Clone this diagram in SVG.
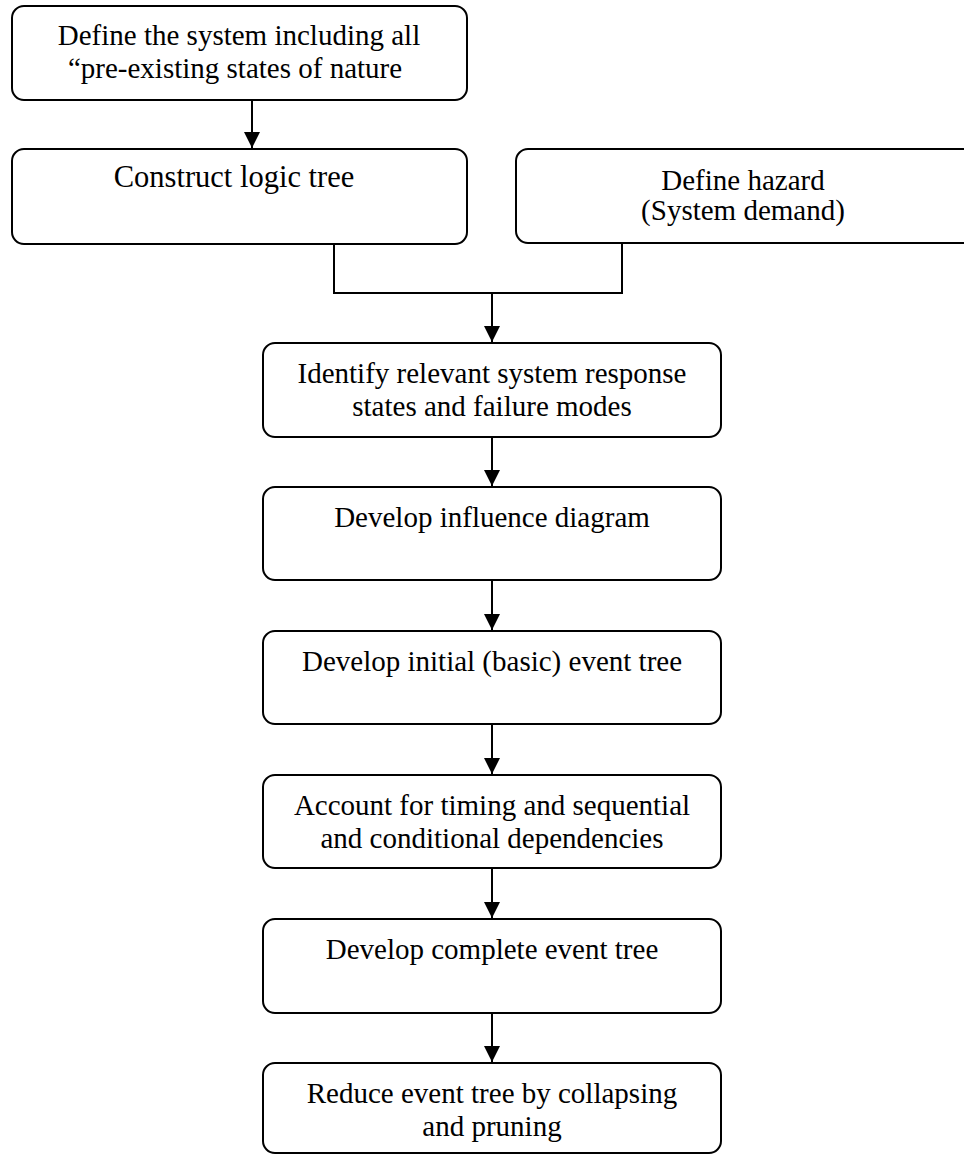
<svg xmlns="http://www.w3.org/2000/svg" width="964" height="1155" viewBox="0 0 964 1155">
  <style>
    .box { fill: #ffffff; stroke: #000000; stroke-width: 2; }
    .lbl { font-family: "Liberation Serif", "Times New Roman", serif; font-size: 29px; fill: #000000; text-anchor: middle; }
    .wire { fill: none; stroke: #000000; stroke-width: 2; }
  </style>
  <defs>
    <marker id="head" viewBox="0 0 16 16" refX="16" refY="8" markerWidth="16" markerHeight="16" markerUnits="userSpaceOnUse" orient="auto">
      <path d="M0,0 L16,8 L0,16 Z" fill="#000000"/>
    </marker>
  </defs>

  <rect width="964" height="1155" fill="#ffffff"/>

  <g id="connectors">
    <line class="wire" x1="252" y1="100" x2="252" y2="148" marker-end="url(#head)"/>
    <polyline class="wire" points="334,244 334,293 622,293 622,243"/>
    <line class="wire" x1="492" y1="293" x2="492" y2="342" marker-end="url(#head)"/>
    <line class="wire" x1="492" y1="437" x2="492" y2="486" marker-end="url(#head)"/>
    <line class="wire" x1="492" y1="580" x2="492" y2="630" marker-end="url(#head)"/>
    <line class="wire" x1="492" y1="724" x2="492" y2="774" marker-end="url(#head)"/>
    <line class="wire" x1="492" y1="868" x2="492" y2="918" marker-end="url(#head)"/>
    <line class="wire" x1="492" y1="1013" x2="492" y2="1062" marker-end="url(#head)"/>
  </g>

  <g id="define-system">
    <rect class="box" x="12" y="6" width="455" height="94" rx="12"/>
    <text class="lbl" x="239" y="45">Define the system including all</text>
    <text class="lbl" x="235" y="78">“pre-existing states of nature</text>
  </g>

  <g id="construct-logic-tree">
    <rect class="box" x="12" y="149" width="455" height="95" rx="12"/>
    <text class="lbl" x="234" y="187" style="font-size:30.5px">Construct logic tree</text>
  </g>

  <g id="define-hazard">
    <rect class="box" x="516" y="149" width="470" height="94" rx="12"/>
    <text class="lbl" x="743" y="190">Define hazard</text>
    <text class="lbl" x="743" y="220">(System demand)</text>
  </g>

  <g id="identify-states">
    <rect class="box" x="263" y="343" width="458" height="94" rx="12"/>
    <text class="lbl" x="492" y="383">Identify relevant system response</text>
    <text class="lbl" x="492" y="416">states and failure modes</text>
  </g>

  <g id="influence-diagram">
    <rect class="box" x="263" y="487" width="458" height="93" rx="12"/>
    <text class="lbl" x="492" y="527">Develop influence diagram</text>
  </g>

  <g id="initial-event-tree">
    <rect class="box" x="263" y="631" width="458" height="93" rx="12"/>
    <text class="lbl" x="492" y="671">Develop initial (basic) event tree</text>
  </g>

  <g id="timing-dependencies">
    <rect class="box" x="263" y="775" width="458" height="93" rx="12"/>
    <text class="lbl" x="492" y="815">Account for timing and sequential</text>
    <text class="lbl" x="492" y="848">and conditional dependencies</text>
  </g>

  <g id="complete-event-tree">
    <rect class="box" x="263" y="919" width="458" height="94" rx="12"/>
    <text class="lbl" x="492" y="959">Develop complete event tree</text>
  </g>

  <g id="reduce-event-tree">
    <rect class="box" x="263" y="1063" width="458" height="90" rx="12"/>
    <text class="lbl" x="492" y="1103">Reduce event tree by collapsing</text>
    <text class="lbl" x="492" y="1136">and pruning</text>
  </g>
</svg>
